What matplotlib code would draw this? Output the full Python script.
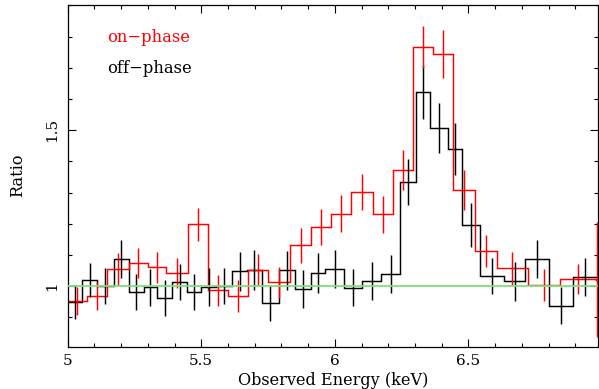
import numpy as np
import matplotlib.pyplot as plt
from matplotlib.ticker import MultipleLocator

plt.rcParams['font.family'] = 'DejaVu Serif'

# on-phase ratio (red): bin edges in keV, ratio values and 1-sigma errors
on_edges = [5.000, 5.073, 5.147, 5.228, 5.301, 5.370, 5.451, 5.526, 5.601, 5.676,
            5.748, 5.834, 5.910, 5.985, 6.059, 6.143, 6.218, 6.292, 6.367, 6.442,
            6.523, 6.606, 6.722, 6.841, 6.978, 6.984]
on_ratio = [0.953, 0.969, 1.055, 1.073, 1.060, 1.043, 1.198, 0.987, 0.968, 1.051,
            1.012, 1.131, 1.190, 1.232, 1.302, 1.230, 1.372, 1.767, 1.743, 1.308,
            1.112, 1.058, 1.005, 1.023, 1.021]
on_err = [0.045, 0.045, 0.051, 0.048, 0.050, 0.048, 0.054, 0.050, 0.051, 0.051,
          0.051, 0.057, 0.057, 0.059, 0.059, 0.060, 0.065, 0.067, 0.077, 0.064,
          0.052, 0.053, 0.051, 0.049, 0.184]

# off-phase ratio (black)
off_edges = [5.000, 5.054, 5.110, 5.172, 5.228, 5.284, 5.335, 5.392, 5.447, 5.501,
             5.557, 5.616, 5.672, 5.726, 5.791, 5.850, 5.909, 5.965, 6.033, 6.103,
             6.174, 6.243, 6.304, 6.357, 6.423, 6.477, 6.543, 6.632, 6.713, 6.801,
             6.890, 6.980]
off_ratio = [0.949, 1.019, 1.001, 1.087, 0.982, 0.996, 0.963, 1.013, 0.981, 0.996,
             1.000, 1.048, 1.053, 0.945, 1.051, 0.990, 1.041, 1.054, 0.995, 1.016,
             1.039, 1.334, 1.623, 1.507, 1.441, 1.196, 1.033, 1.015, 1.087, 0.937,
             1.028]
off_err = [0.054, 0.054, 0.058, 0.061, 0.058, 0.058, 0.058, 0.058, 0.058, 0.061,
           0.058, 0.062, 0.064, 0.058, 0.063, 0.061, 0.064, 0.061, 0.059, 0.061,
           0.061, 0.075, 0.087, 0.079, 0.083, 0.071, 0.058, 0.062, 0.062, 0.059,
           0.061]

fig = plt.figure(figsize=(5.99, 3.89), dpi=100)
ax = fig.add_axes([0.1129, 0.108, 0.8855, 0.8779])

for edges, ratio, err, col in [(off_edges, off_ratio, off_err, 'black'),
                               (on_edges, on_ratio, on_err, 'red')]:
    edges = np.array(edges)
    centers = (edges[:-1] + edges[1:]) / 2
    ax.stairs(ratio, edges, baseline=None, color=col, lw=1.05)
    ax.errorbar(centers, ratio, yerr=err, fmt='none', ecolor=col,
                elinewidth=1.05, capsize=0, zorder=3)

ax.axhline(1.0, color='#7de07d', lw=1.3, zorder=5)

ax.set_xlim(5.0, 6.985)
ax.set_ylim(0.805, 1.9)

ax.xaxis.set_major_locator(MultipleLocator(0.5))
ax.xaxis.set_minor_locator(MultipleLocator(0.1))
ax.yaxis.set_major_locator(MultipleLocator(0.5))
ax.yaxis.set_minor_locator(MultipleLocator(0.1))
ax.set_xticks([5, 5.5, 6, 6.5])
ax.set_xticklabels(['5', '5.5', '6', '6.5'])
ax.set_yticks([1, 1.5])
ax.set_yticklabels(['1', '1.5'])

ax.tick_params(which='both', direction='in', top=True, right=True, width=0.8,
               labelsize=11)
ax.tick_params(which='major', length=5.5)
ax.tick_params(which='minor', length=2.8)
ax.tick_params(axis='x', pad=5)
ax.tick_params(axis='y', pad=6, labelrotation=90)
for lab in ax.get_yticklabels():
    lab.set_va('center')

for sp in ax.spines.values():
    sp.set_linewidth(0.9)

ax.set_xlabel('Observed Energy (keV)', fontsize=11.6, va='center')
ax.xaxis.set_label_coords(0.5, -0.099)
ax.set_ylabel('Ratio', fontsize=11.6, va='center')
ax.yaxis.set_label_coords(-0.0935, 0.504)

ax.text(0.074, 0.893, 'on\u2212phase', color='red', fontsize=11.8,
        transform=ax.transAxes)
ax.text(0.074, 0.802, 'off\u2212phase', color='black', fontsize=11.8,
        transform=ax.transAxes)

fig.savefig('out.png', dpi=100)
